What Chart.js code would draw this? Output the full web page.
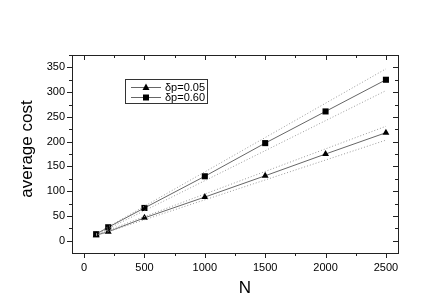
<!DOCTYPE html>
<html><head><meta charset="utf-8">
<script src="https://cdn.jsdelivr.net/npm/chart.js@4/dist/chart.umd.min.js"></script>
<style>html,body{margin:0;padding:0;background:#fff}#wrap{width:436px;height:304px}</style>
</head><body><div id="wrap"><canvas id="c" width="436" height="304"></canvas></div>
<script>
const nValues = [100, 200, 500, 1000, 1500, 2000, 2500];
const cost005 = [11, 18, 46, 88, 131, 175, 218];
const cost060 = [13, 27, 66, 130, 197, 261, 325];
const band005Upper = [[100, 12], [2500, 231]];
const band005Lower = [[100, 10], [2500, 203]];
const band060Upper = [[100, 14], [2500, 347]];
const band060Lower = [[100, 12], [2500, 303]];
const xTicks = [0, 500, 1000, 1500, 2000, 2500];
const yTicks = [0, 50, 100, 150, 200, 250, 300, 350];
const legendLabels = ['δp=0.05', 'δp=0.60'];

const FONT = 'Arial, "Liberation Sans", Helvetica, sans-serif';
const pts = (xs, ys) => xs.map((x, i) => ({x, y: ys[i]}));
const bandPts = b => b.map(p => ({x: p[0], y: p[1]}));

const frame = {
  id: 'frame',
  afterDraw(chart) {
    const {ctx, chartArea: a, scales: {x, y}} = chart;
    ctx.save();
    ctx.strokeStyle = '#222';
    ctx.lineWidth = 1;
    ctx.strokeRect(a.left + 0.5, a.top + 0.5, a.right - a.left, a.bottom - a.top);
    ctx.beginPath();
    for (let v = -250; v <= 2600; v += 250) {
      const px = Math.round(x.getPixelForValue(v)) + 0.5;
      if (px < a.left || px > a.right) continue;
      const major = v % 500 === 0;
      const len = major ? 5 : 3;
      ctx.moveTo(px, a.bottom); ctx.lineTo(px, a.bottom + len);
      ctx.moveTo(px, a.top); ctx.lineTo(px, a.top + len);
    }
    for (let v = -25; v <= 375; v += 25) {
      const py = Math.round(y.getPixelForValue(v)) + 0.5;
      if (py < a.top || py > a.bottom) continue;
      const major = v % 50 === 0;
      const len = major ? 5 : 3;
      ctx.moveTo(a.left, py); ctx.lineTo(a.left - len, py);
      ctx.moveTo(a.right, py); ctx.lineTo(a.right - len, py);
    }
    ctx.stroke();

    const lx = 125, ly = 79, lw = 82, lh = 24;
    ctx.fillStyle = '#fff';
    ctx.fillRect(lx + 0.5, ly + 0.5, lw, lh);
    ctx.strokeStyle = '#333';
    ctx.strokeRect(lx + 0.5, ly + 0.5, lw, lh);
    const rows = [ly + 8, ly + 18];
    ctx.font = '11px ' + FONT;
    ctx.textBaseline = 'middle';
    rows.forEach((ry, i) => {
      ctx.strokeStyle = '#666';
      ctx.beginPath(); ctx.moveTo(131, ry + 0.5); ctx.lineTo(161, ry + 0.5); ctx.stroke();
      ctx.fillStyle = '#000';
      ctx.beginPath();
      if (i === 0) {
        ctx.moveTo(146, ry - 3.5); ctx.lineTo(149.5, ry + 3); ctx.lineTo(142.5, ry + 3); ctx.closePath();
      } else {
        ctx.rect(143, ry - 2.5, 6, 6);
      }
      ctx.fill();
      ctx.fillStyle = '#000';
      ctx.fillText(legendLabels[i], 165, ry + 1);
    });

    ctx.font = '17px ' + FONT;
    ctx.textAlign = 'center';
    ctx.textBaseline = 'middle';
    ctx.fillText('N', 245, 288);
    ctx.translate(27, 149);
    ctx.rotate(-Math.PI / 2);
    ctx.fillText('average cost', 0, 0);
    ctx.restore();
  }
};

const dotted = {borderColor: '#9a9a9a', borderWidth: 1, borderDash: [1, 2], pointRadius: 0, fill: false, showLine: true};
new Chart(document.getElementById('c'), {
  type: 'scatter',
  data: {
    datasets: [
      Object.assign({data: bandPts(band005Upper)}, dotted),
      Object.assign({data: bandPts(band005Lower)}, dotted),
      Object.assign({data: bandPts(band060Upper)}, dotted),
      Object.assign({data: bandPts(band060Lower)}, dotted),
      {label: legendLabels[0], data: pts(nValues, cost005), showLine: true, borderColor: '#666', borderWidth: 1,
       pointStyle: 'triangle', pointRadius: 4, pointBackgroundColor: '#000', pointBorderColor: '#000', pointBorderWidth: 0},
      {label: legendLabels[1], data: pts(nValues, cost060), showLine: true, borderColor: '#666', borderWidth: 1,
       pointStyle: 'rect', pointRadius: 4.3, pointBackgroundColor: '#000', pointBorderColor: '#000', pointBorderWidth: 0}
    ]
  },
  options: {
    responsive: false,
    animation: false,
    events: [],
    layout: {padding: {left: 0, top: 55, right: 38, bottom: 0}},
    plugins: {legend: {display: false}, tooltip: {enabled: false}},
    scales: {
      x: {
        type: 'linear', min: -100, max: 2600,
        afterBuildTicks: s => { s.ticks = xTicks.map(v => ({value: v})); },
        afterFit: s => { s.height = 51; },
        grid: {display: false, drawTicks: false},
        border: {display: false},
        ticks: {padding: 8, color: '#000', font: {family: FONT, size: 11}, maxRotation: 0, callback: v => String(v)}
      },
      y: {
        type: 'linear', min: -25, max: 375,
        afterBuildTicks: s => { s.ticks = yTicks.map(v => ({value: v})); },
        afterFit: s => { s.width = 72; },
        grid: {display: false, drawTicks: false},
        border: {display: false},
        ticks: {padding: 7, color: '#000', font: {family: FONT, size: 11}, callback: v => String(v)}
      }
    }
  },
  plugins: [frame]
});
</script></body></html>
